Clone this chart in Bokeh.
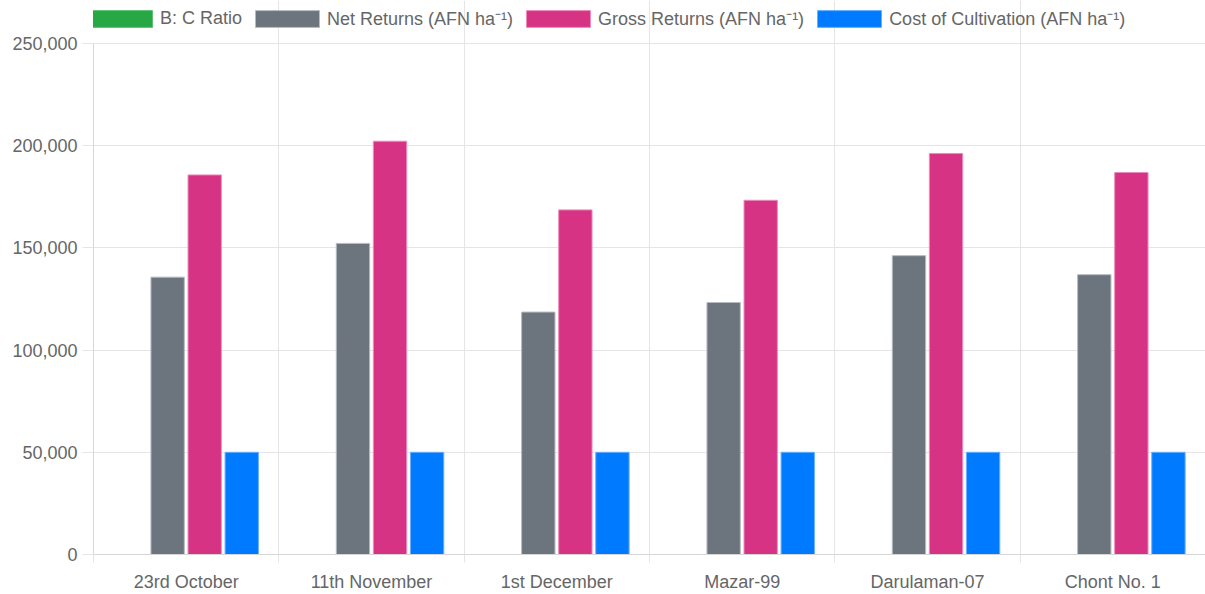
from bokeh.plotting import figure
from bokeh.models import (ColumnDataSource, Range1d, FixedTicker, NumeralTickFormatter,
                          Legend, LegendItem)
from bokeh.embed import file_html
from bokeh.resources import INLINE

categories = ["23rd October", "11th November", "1st December", "Mazar-99", "Darulaman-07", "Chont No. 1"]
bc_ratio = [3.72, 4.05, 3.37, 3.47, 3.93, 3.74]
net_returns = [135700, 152200, 118600, 123300, 146200, 136900]
gross_returns = [185700, 202200, 168600, 173300, 196200, 186900]
cost_cultivation = [50000, 50000, 50000, 50000, 50000, 50000]
y_ticks = [0, 50000, 100000, 150000, 200000, 250000]
y_max = 250000

series = [
    ("B: C Ratio", bc_ratio, "#28a745", "#5cc270"),
    ("Net Returns (AFN ha\u207b\u00b9)", net_returns, "#6c757d", "#b5bcc2"),
    ("Gross Returns (AFN ha\u207b\u00b9)", gross_returns, "#d63384", "#ec8cbd"),
    ("Cost of Cultivation (AFN ha\u207b\u00b9)", cost_cultivation, "#007bff", "#66b0ff"),
]

FONT = "Liberation Sans"
FS = "18px"
TXT = "#666666"
GRID = "#e5e5e5"

# frame spans the full height above the x axis; the legend sits in the headroom above y_max
FRAME_H = 554
PLOT_H = 511
p = figure(width=1205, height=594, output_backend="svg", toolbar_location=None,
           x_range=Range1d(0, len(categories)),
           y_range=Range1d(0, y_max * FRAME_H / PLOT_H),
           min_border_left=93, min_border_right=0, min_border_bottom=40, min_border_top=0)
p.outline_line_color = None
p.background_fill_color = "white"
p.border_fill_color = "white"

centers = [i + 0.5 for i in range(len(categories))]
bounds = [float(i) for i in range(len(categories) + 1)]
offsets = [-0.3, -0.1, 0.1, 0.3]

items = []
for (name, vals, col, edge), off in zip(series, offsets):
    src = ColumnDataSource(dict(x=[c + off for c in centers], top=vals))
    r = p.vbar(x="x", top="top", width=0.18, bottom=0, source=src,
               fill_color=col, line_color=edge, line_width=1)
    items.append(LegendItem(label=name, renderers=[r]))

# x axis
xa = p.xaxis[0]
xa.ticker = FixedTicker(ticks=centers, minor_ticks=bounds)
xa.major_label_overrides = {c: n for c, n in zip(centers, categories)}
xa.major_tick_out = 0
xa.major_tick_in = 0
xa.minor_tick_out = 8
xa.minor_tick_in = 0
xa.minor_tick_line_color = GRID
xa.axis_line_color = "#d6d6d6"
xa.major_label_text_font = FONT
xa.major_label_text_font_size = FS
xa.major_label_text_color = TXT
xa.major_label_standoff = 9
p.xgrid.ticker = FixedTicker(ticks=bounds)
p.xgrid.grid_line_color = GRID
p.xgrid.bounds = (0, y_max)

# y axis
ya = p.yaxis[0]
ya.ticker = FixedTicker(ticks=y_ticks)
ya.formatter = NumeralTickFormatter(format="0,0")
ya.bounds = (0, y_max)
ya.major_tick_out = 11
ya.major_tick_in = 0
ya.minor_tick_line_color = None
ya.major_tick_line_color = GRID
ya.axis_line_color = "#d6d6d6"
ya.major_label_text_font = FONT
ya.major_label_text_font_size = FS
ya.major_label_text_color = TXT
ya.major_label_standoff = 5
p.ygrid.ticker = FixedTicker(ticks=y_ticks)
p.ygrid.grid_line_color = GRID

legend = Legend(items=items, orientation="horizontal", location=(-13, 524),
                glyph_width=80, glyph_height=21, label_standoff=0, spacing=5,
                padding=0, margin=0, border_line_color=None, background_fill_alpha=0,
                label_text_font=FONT, label_text_font_size=FS, label_text_color=TXT)
p.add_layout(legend, "center")

open("out.html", "w").write(file_html(p, INLINE))
